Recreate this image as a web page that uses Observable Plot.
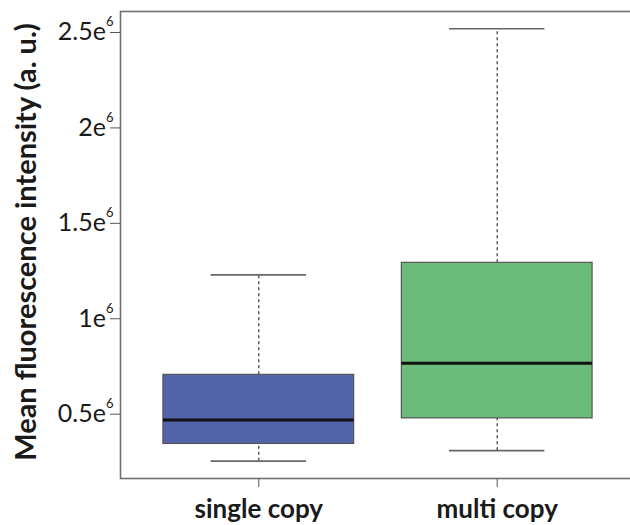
<!DOCTYPE html>
<html>
<head>
<meta charset="utf-8">
<script src="https://cdn.jsdelivr.net/npm/d3@7"></script>
<script src="https://cdn.jsdelivr.net/npm/@observablehq/plot@0.6"></script>
<style>
  html, body { margin: 0; padding: 0; background: #fff; }
</style>
</head>
<body>
<div id="chart"></div>
<script>
const groups = ["single copy", "multi copy"];
const lowerWhisker = [0.254e6, 0.309e6];
const q1 = [0.344e6, 0.478e6];
const median = [0.470e6, 0.767e6];
const q3 = [0.706e6, 1.293e6];
const upperWhisker = [1.23e6, 2.52e6];
const fills = ["#5163A9", "#6BBB7B"];
const yTicks = [0.5e6, 1e6, 1.5e6, 2e6, 2.5e6];
const yTitle = "Mean fluorescence intensity (a. u.)";

const rows = groups.map((g, i) => ({
  x: i + 1, group: g, lo: lowerWhisker[i], q1: q1[i], med: median[i],
  q3: q3[i], hi: upperWhisker[i], fill: fills[i]
}));
const boxHalf = 0.4, capHalf = 0.2;

const chart = Plot.plot({
  width: 630,
  height: 525,
  marginLeft: 120,
  marginRight: -5,
  marginTop: 11,
  marginBottom: 47,
  style: { fontFamily: "Lato, sans-serif", color: "#1a1a1a", background: "#fff" },
  x: { type: "linear", domain: [0.42, 2.58], label: null },
  y: { domain: [0.163e6, 2.61e6], label: null },
  marks: [
    Plot.ruleX(rows, { x: "x", y1: "q3", y2: "hi", stroke: "#444", strokeWidth: 1.3, strokeDasharray: "3,3" }),
    Plot.ruleX(rows, { x: "x", y1: "lo", y2: "q1", stroke: "#444", strokeWidth: 1.3, strokeDasharray: "3,3" }),
    Plot.ruleY(rows, { y: "hi", x1: d => d.x - capHalf, x2: d => d.x + capHalf, stroke: "#666", strokeWidth: 1.6 }),
    Plot.ruleY(rows, { y: "lo", x1: d => d.x - capHalf, x2: d => d.x + capHalf, stroke: "#666", strokeWidth: 1.6 }),
    Plot.rect(rows, { x1: d => d.x - boxHalf, x2: d => d.x + boxHalf, y1: "q1", y2: "q3", fill: "fill", stroke: "#555", strokeWidth: 1.2 }),
    Plot.ruleY(rows, { y: "med", x1: d => d.x - boxHalf, x2: d => d.x + boxHalf, stroke: "#111", strokeWidth: 3 }),
    Plot.frame({ stroke: "#707070", strokeWidth: 1.6 }),
    Plot.axisY({ ticks: yTicks, tickSize: 10, tickFormat: () => "", stroke: "#555", label: null }),
    Plot.axisY({ ticks: yTicks, tickSize: 0, tickPadding: 7, tickFormat: d => (d / 1e6) + "e", fontSize: 25, fill: "#1a1a1a", label: null }),
    Plot.axisX({ ticks: [1, 2], tickSize: 9, tickPadding: 12, tickFormat: d => groups[d - 1], fontSize: 26, fontWeight: "bold", fill: "#1a1a1a", stroke: "#555", label: null }),
    Plot.text([yTitle], { frameAnchor: "left", textAnchor: "middle", rotate: -90, dx: -94, dy: -3, text: d => d, fontSize: 29, fontWeight: "bold", fill: "#1a1a1a" })
  ]
});

document.getElementById("chart").appendChild(chart);

d3.select(chart).selectAll('g[aria-label="y-axis tick label"] text')
  .filter(function () { return this.textContent.trim() !== ""; })
  .append("tspan")
  .attr("dy", -14)
  .attr("font-size", 13)
  .text("6");
</script>
</body>
</html>
